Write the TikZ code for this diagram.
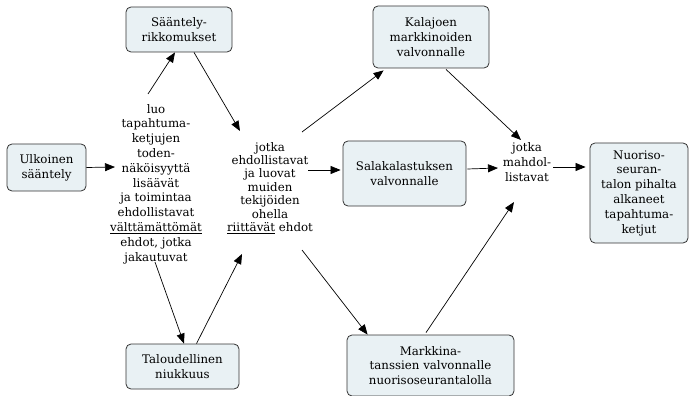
\documentclass[tikz,border=0pt]{standalone}
\usepackage{fontspec}
\setmainfont{DejaVu Serif}
\usetikzlibrary{arrows.meta,calc}
\definecolor{boxfill}{HTML}{E9F1F4}
\definecolor{boxline}{HTML}{333333}
\tikzset{
  cbox/.style={draw=boxline, fill=boxfill, rounded corners=5pt, line width=0.8pt,
    align=center, inner sep=0pt, font=\fontsize{11.8}{14.8}\selectfont},
  lbl/.style={align=center, inner sep=1pt, font=\fontsize{11.8}{14.8}\selectfont},
  arr/.style={-{Triangle[length=10pt,width=8pt]}, line width=0.7pt}
}
\begin{document}
\begin{tikzpicture}[x=1pt,y=-1pt]
\useasboundingbox (0,0) rectangle (689,396);
% boxes
\node[cbox, minimum width=79pt, minimum height=47pt] (ulk) at (46.5,167.5) {Ulkoinen\\sääntely};
\node[cbox, minimum width=106pt, minimum height=45pt] (saant) at (179,29.5) {Sääntely-\\rikkomukset};
\node[cbox, minimum width=113pt, minimum height=45pt] (talo) at (182.5,366.5) {Taloudellinen\\niukkuus};
\node[cbox, minimum width=116pt, minimum height=62pt] (kala) at (431,37) {Kalajoen\\markkinoiden\\valvonnalle};
\node[cbox, minimum width=123pt, minimum height=65pt] (sala) at (404.5,173.5) {Salakalastuksen\\valvonnalle};
\node[cbox, minimum width=98pt, minimum height=100pt] (nuor) at (639,193) {Nuoriso-\\seuran-\\talon pihalta\\alkaneet\\tapahtuma-\\ketjut};
\node[cbox, minimum width=167pt, minimum height=61pt] (mark) at (430.5,365.5) {Markkina-\\tanssien valvonnalle\\nuorisoseurantalolla};
% labels
\node[lbl] (luo) at (156,184) {luo\\tapahtuma-\\ketjujen\\toden-\\näköisyyttä\\lisäävät\\ja toimintaa\\ehdollistavat\\\underline{välttämättömät}\\ehdot, jotka\\jakautuvat};
\node[lbl, font=\fontsize{11.8}{13.4}\selectfont] (jot) at (270,188) {jotka\\ehdollistavat\\ja luovat\\muiden\\tekijöiden\\ohella\\\underline{riittävät} ehdot};
\node[lbl, font=\fontsize{11.8}{15}\selectfont] (mah) at (527,162) {jotka\\mahdol-\\listavat};
% connectors
\draw[arr] (ulk.east) -- ($(luo)+(-41,-17)$);
\draw[arr] ($(luo)+(-8,-90)$) -- ($(saant.south)+(-4,0)$);
\draw[arr] ($(saant.south)+(15,0)$) -- ($(jot)+(-30,-57)$);
\draw[arr] ($(luo)+(-1,78)$) -- ($(talo.north)+(1.5,0)$);
\draw[arr] ($(talo.north)+(14,0)$) -- ($(jot)+(-28,66)$);
\draw[arr] ($(jot)+(32,-56)$) -- ($(kala.south west)+(11,2)$);
\draw[arr] ($(jot)+(38,-18)$) -- ($(sala.west)+(-2,-3.5)$);
\draw[arr] ($(jot)+(32,62)$) -- ($(mark.north west)+(21,0)$);
\draw[arr] ($(sala.east)+(1,-4.5)$) -- ($(mah)+(-29,6)$);
\draw[arr] ($(kala.south)+(15,1)$) -- ($(mah)+(-6,-22)$);
\draw[arr] ($(mark.north)+(-4.5,-2)$) -- ($(mah)+(-13,40)$);
\draw[arr] ($(mah)+(26,5)$) -- ($(nuor.west)+(-4,-26)$);
\end{tikzpicture}
\end{document}
